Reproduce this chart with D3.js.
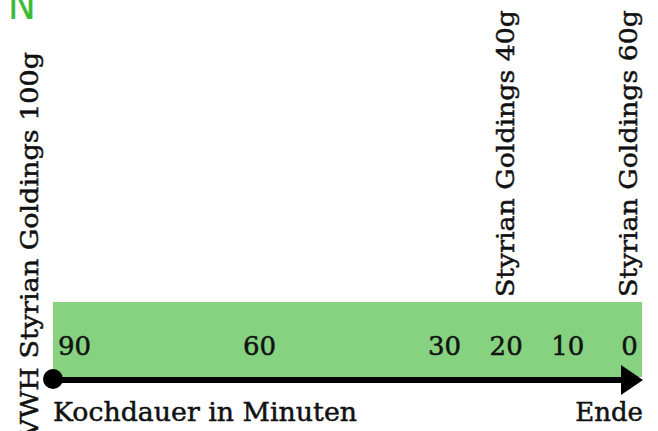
<!DOCTYPE html>
<html>
<head>
<meta charset="utf-8">
<script src="https://cdn.jsdelivr.net/npm/d3@7"></script>
<style>
  body { margin: 0; background: #fff; }
  svg { display: block; }
  text { font-family: "DejaVu Serif", "Liberation Serif", serif; fill: #111; stroke: #111; stroke-width: 0.5px; }
</style>
</head>
<body>
<script>
//-----------------Data----------------

const minuteTicks = [90, 60, 30, 20, 10, 0];
const hopNames = ["VWH Styrian Goldings 100g", "Styrian Goldings 40g", "Styrian Goldings 60g"];
const hopMinutes = [90, 20, 0];
const titleText = "HOPFENPLAN";
const startLabel = "Kochdauer in Minuten";
const endLabel = "Ende";

//-----------------Main svg----------------

const width = 658;
const height = 431;
const barLeft = 53;
const barRight = 642;
const barTop = 302;
const lineY = 380;

const svg = d3.select("body").append("svg").attr("width", width).attr("height", height);

// title, mostly cut off above the picture
svg
  .append("text")
  .text(titleText)
  .attr("x", 45)
  .attr("y", 19)
  .style("text-anchor", "end")
  .style("font-family", "'DejaVu Sans Condensed', 'DejaVu Sans', sans-serif")
  .style("font-size", "42px")
  .style("letter-spacing", "9px")
  .style("stroke", "none")
  .style("fill", "#3dbb3a");

//-----------------Scale----------------

const xScale = d3.scaleLinear().domain([90, 0]).range([74, 629]);

//-----------------Green bar----------------

svg
  .append("rect")
  .attr("x", barLeft)
  .attr("y", barTop)
  .attr("width", barRight - barLeft)
  .attr("height", lineY - 3 - barTop)
  .style("fill", "#86d280");

//-----------------Minute ticks----------------

const xAxis = d3.axisBottom(xScale).tickValues(minuteTicks).tickSize(0).tickFormat((d) => d);

const axisG = svg
  .append("g")
  .attr("transform", "translate(0,355)")
  .call(xAxis);

axisG.select(".domain").remove();
axisG
  .selectAll(".tick text")
  .attr("y", 0)
  .attr("dy", 0)
  .attr("font-family", null)
  .attr("font-size", null)
  .attr("fill", null)
  .style("font-size", "26px");

//-----------------Arrow----------------

svg
  .append("line")
  .attr("x1", barLeft)
  .attr("x2", barRight - 20)
  .attr("y1", lineY)
  .attr("y2", lineY)
  .style("stroke", "#000")
  .style("stroke-width", 6);

svg
  .append("path")
  .attr("d", d3.line()([[barRight - 21, lineY - 15], [barRight + 1, lineY], [barRight - 21, lineY + 15]]))
  .style("fill", "#000");

svg
  .append("circle")
  .attr("cx", barLeft)
  .attr("cy", lineY - 1)
  .attr("r", 10)
  .style("fill", "#000");

svg
  .append("text")
  .text(startLabel)
  .attr("x", barLeft)
  .attr("y", 421)
  .attr("textLength", 304)
  .attr("lengthAdjust", "spacingAndGlyphs")
  .style("font-size", "26px");

svg
  .append("text")
  .text(endLabel)
  .attr("x", barRight + 1)
  .attr("y", 421)
  .style("text-anchor", "end")
  .style("font-size", "26px");

//-----------------Hop labels----------------

hopNames.map((name, i) => {
  // the first addition sits at the bar start, so its label goes left of the bar
  const first = i === 0;
  const x = first ? barLeft - 15 : xScale(hopMinutes[i]) + 8;
  const y = first ? 52 : barTop - 5;
  svg
    .append("text")
    .text(name)
    .attr("transform", "translate(" + x + "," + y + ") rotate(-90)")
    .attr("textLength", first ? 386 : 287)
    .attr("lengthAdjust", "spacingAndGlyphs")
    .style("text-anchor", first ? "end" : "start")
    .style("font-size", "25px");
});
</script>
</body>
</html>
